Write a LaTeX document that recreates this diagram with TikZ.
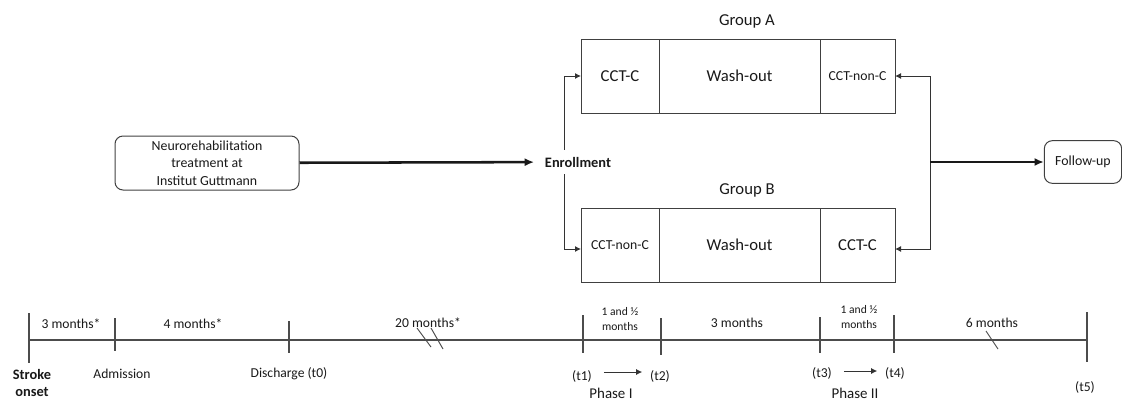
\documentclass[tikz,border=0pt]{standalone}
\usepackage{fontspec}
\setmainfont{Carlito}
\usetikzlibrary{arrows.meta}
\usetikzlibrary{positioning}

\begin{document}
\begin{tikzpicture}[x=0.75pt,y=0.75pt,yscale=-1,xscale=1,
  cell/.style={draw=black!75, line width=0.75pt, inner sep=0pt, outer sep=0pt, minimum height=55.5pt, text=black!90, font=\fontsize{12.5}{15}\selectfont},
  smallcell/.style={cell, font=\fontsize{10.3}{12}\selectfont},
  roundbox/.style={draw=black!75, line width=0.75pt, rounded corners=6pt, align=center, inner sep=0pt, text=black!90, font=\fontsize{10.4}{13.1}\selectfont},
  thinarrow/.style={draw=black!80, line width=0.75pt, -{Latex[length=4.5pt,width=4.5pt]}},
  thickarrow/.style={draw=black!90, line width=1.9pt, -{Latex[length=7pt,width=6pt]}},
  tickline/.style={draw=black!70, line width=1.1pt},
  slash/.style={draw=black!70, line width=0.7pt},
  lbl/.style={inner sep=0.75pt, text=black!90, font=\fontsize{10.2}{12}\selectfont},
  twolines/.style={lbl, align=center, font=\fontsize{8.7}{11.25}\selectfont},
  grp/.style={inner sep=0.75pt, text=black!90, font=\fontsize{12.5}{15}\selectfont},
  phase/.style={inner sep=0.75pt, text=black!90, font=\fontsize{11.2}{13}\selectfont}]
\path[use as bounding box] (0,0) rectangle (1122,401);

% Group A
\node[grp] (ga) at (747,21) {Group A};
\node[cell, minimum width=58.5pt] (a1) at (620,76) {CCT-C};
\node[cell, minimum width=120.75pt, right=0pt of a1] (a2) {Wash-out};
\node[smallcell, minimum width=56.25pt, right=0pt of a2] (a3) {CCT-non-C};

% Group B
\node[grp] (gb) at (747,190) {Group B};
\node[smallcell, minimum width=58.5pt] (b1) at (620,245) {CCT-non-C};
\node[cell, minimum width=120.75pt, right=0pt of b1] (b2) {Wash-out};
\node[cell, minimum width=56.25pt, right=0pt of b2] (b3) {CCT-C};

% Enrollment split and cross-over join
\coordinate (jl) at (564,162);
\coordinate (jr) at (930,162);
\draw[thinarrow] (jl) |- ([yshift=3pt]b1.west);
\draw[thinarrow] (jl) |- (a1.west);
\draw[thinarrow] (jr) |- (a3.east);
\draw[thinarrow] (jr) |- ([yshift=3pt]b3.east);

\node[roundbox, minimum width=138pt, minimum height=40.5pt] (neuro) at (207,163) {Neurorehabilitation\\treatment at\\Institut Guttmann};
\node[lbl, fill=white, inner xsep=1pt, inner ysep=5pt, font=\fontsize{10.8}{12}\selectfont\bfseries] (enr) at (578,162) {Enrollment};
\node[roundbox, minimum width=58pt, minimum height=32pt] (fu) at (1083,162) {Follow-up};

\draw[thickarrow, shorten >=7pt] (neuro) -- (enr);
\draw[thickarrow] (jr) -- (fu);

% Timeline
\coordinate (s0) at (29,340);
\coordinate (adm) at (115,340);
\coordinate (dis) at (289,340);
\coordinate (t1) at (583,340);
\coordinate (t2) at (661,340);
\coordinate (t3) at (820,340);
\coordinate (t4) at (894,340);
\coordinate (t5) at (1087,340);
\draw[tickline] (s0) -- (t5);
\draw[tickline] (s0) ++(0,-27) -- ++(0,50);
\draw[tickline] (adm) ++(0,-22) -- ++(0,33);
\draw[tickline] (dis) ++(0,-19) -- ++(0,32);
\draw[tickline] (t1) ++(0,-25) -- ++(0,38);
\draw[tickline] (t2) ++(0,-22) -- ++(0,37);
\draw[tickline] (t3) ++(0,-23) -- ++(0,36);
\draw[tickline] (t4) ++(0,-25) -- ++(0,38);
\draw[tickline] (t5) ++(0,-28) -- ++(0,50);

% break marks
\draw[slash] (417,328) -- (431,347);
\draw[slash] (431,328) -- (443,349);
\draw[slash] (986,331) -- (998,349);

% Durations
\node[lbl] (d1) at (71,324) {3 months*};
\node[lbl] (d2) at (193,324) {4 months*};
\node[lbl] (d3) at (428,323) {20 months*};
\node[twolines] (d4) at (620,319) {1 and ½\\months};
\node[lbl] (d5) at (737,323) {3 months};
\node[twolines] (d6) at (859,317) {1 and ½\\months};
\node[lbl] (d7) at (992,323) {6 months};

% Time points
\node[lbl, align=center, font=\fontsize{10.8}{12.75}\selectfont\bfseries] (pso) at (32,383) {Stroke\\onset};
\node[lbl] (padm) at (122,374) {Admission};
\node[lbl] (pdis) at (289,374) {Discharge (t0)};
\node[lbl] (pt1) at (582,376) {(t1)};
\node[lbl] (pt2) at (660,376) {(t2)};
\node[lbl] (pt3) at (822,373) {(t3)};
\node[lbl] (pt4) at (895,373) {(t4)};
\node[lbl] (pt5) at (1085,387) {(t5)};
\draw[thinarrow] ([xshift=8pt,yshift=-3pt]pt1.east) -- ([xshift=-5pt,yshift=-3pt]pt2.west);
\draw[thinarrow] ([xshift=8pt,yshift=-1.5pt]pt3.east) -- ([xshift=-5pt,yshift=-1.5pt]pt4.west);
\node[phase] (ph1) at (611,393) {Phase I};
\node[phase] (ph2) at (855,393) {Phase II};

\end{tikzpicture}
\end{document}
